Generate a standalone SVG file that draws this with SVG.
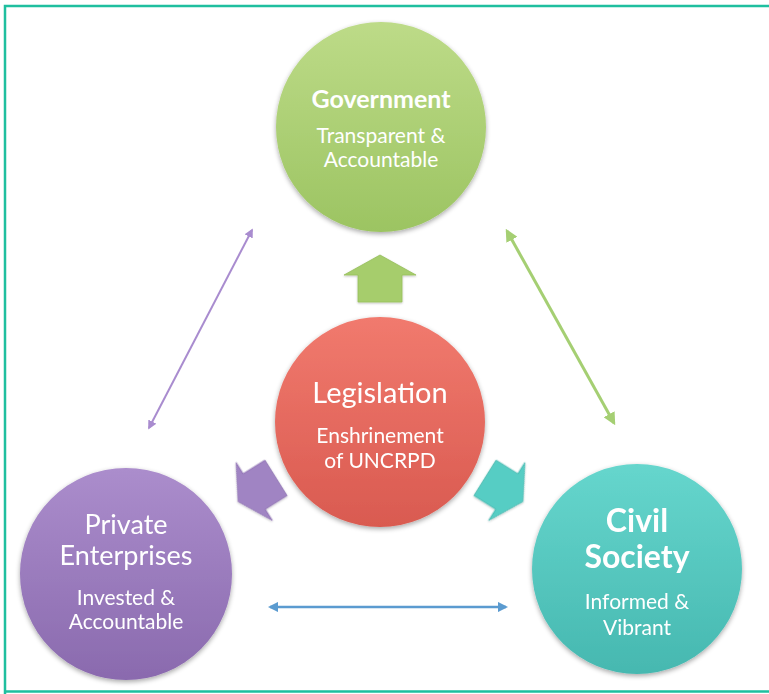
<svg xmlns="http://www.w3.org/2000/svg" width="769" height="694" viewBox="0 0 769 694">
  <defs>
    <linearGradient id="gGreen" x1="0" y1="0" x2="0" y2="1">
      <stop offset="0" stop-color="#bddb88"/>
      <stop offset="1" stop-color="#9cc462"/>
    </linearGradient>
    <linearGradient id="gRed" x1="0" y1="0" x2="0" y2="1">
      <stop offset="0" stop-color="#f17a6e"/>
      <stop offset="1" stop-color="#d95a50"/>
    </linearGradient>
    <linearGradient id="gPurple" x1="0" y1="0" x2="0" y2="1">
      <stop offset="0" stop-color="#ab8dcc"/>
      <stop offset="1" stop-color="#8a6aae"/>
    </linearGradient>
    <linearGradient id="gTeal" x1="0" y1="0" x2="0" y2="1">
      <stop offset="0" stop-color="#66d6cd"/>
      <stop offset="1" stop-color="#46b8b0"/>
    </linearGradient>
    <filter id="shadow" x="-20%" y="-20%" width="140%" height="140%">
      <feGaussianBlur in="SourceAlpha" stdDeviation="2.5"/>
      <feOffset dx="0" dy="2" result="b"/>
      <feComponentTransfer><feFuncA type="linear" slope="0.35"/></feComponentTransfer>
      <feMerge><feMergeNode/><feMergeNode in="SourceGraphic"/></feMerge>
    </filter>
    <filter id="soft" x="-20%" y="-20%" width="140%" height="140%">
      <feGaussianBlur in="SourceAlpha" stdDeviation="1.2"/>
      <feOffset dx="0" dy="1"/>
      <feComponentTransfer><feFuncA type="linear" slope="0.25"/></feComponentTransfer>
      <feMerge><feMergeNode/><feMergeNode in="SourceGraphic"/></feMerge>
    </filter>
    <marker id="mPurple" viewBox="0 0 10 10" refX="8" refY="5" markerWidth="4.5" markerHeight="4.5" orient="auto-start-reverse">
      <path d="M0,0 L10,5 L0,10 z" fill="#a98ccf"/>
    </marker>
    <marker id="mGreen" viewBox="0 0 10 10" refX="8" refY="5" markerWidth="4.2" markerHeight="4.2" orient="auto-start-reverse">
      <path d="M0,0 L10,5 L0,10 z" fill="#a5cf73"/>
    </marker>
    <marker id="mBlue" viewBox="0 0 10 10" refX="8" refY="5" markerWidth="4.2" markerHeight="4.2" orient="auto-start-reverse">
      <path d="M0,0 L10,5 L0,10 z" fill="#5b9bd0"/>
    </marker>
    <!-- block arrow pointing up, origin at the centre of the middle circle -->
    <path id="blockArrow" d="M0,-160 L36,-140 L22,-140 L22,-113 L-22,-113 L-22,-140 L-36,-140 Z"/>
    <style>
      .t { font-family: Lato, "Open Sans", "Liberation Sans", sans-serif; fill: #ffffff; text-anchor: middle; }
      .bold { font-weight: bold; }
      .sub { font-size: 21px; }
    </style>
  </defs>

  <rect x="0" y="0" width="769" height="694" fill="#ffffff"/>
  <!-- frame -->
  <path d="M5,694 L5,6 L769,6" fill="none" stroke="#1fbf9f" stroke-width="2.5"/>
  <line x1="5" y1="691.5" x2="769" y2="691.5" stroke="#1fbf9f" stroke-width="2.5"/>

  <g id="connectors">
    <line x1="149" y1="428" x2="252" y2="230" stroke="#a98ccf" stroke-width="2" marker-start="url(#mPurple)" marker-end="url(#mPurple)"/>
    <line x1="507" y1="231" x2="614" y2="423" stroke="#a5cf73" stroke-width="3" marker-start="url(#mGreen)" marker-end="url(#mGreen)"/>
    <line x1="270" y1="607" x2="506" y2="607" stroke="#5b9bd0" stroke-width="2.5" marker-start="url(#mBlue)" marker-end="url(#mBlue)"/>
    <g filter="url(#soft)">
      <use href="#blockArrow" transform="translate(380,415)" fill="#a6cd6c" stroke="#97bf5c" stroke-width="0.8"/>
      <use href="#blockArrow" transform="translate(367,421) rotate(-122) scale(0.95)" fill="#a084c3" stroke="#8e70b3" stroke-width="0.8"/>
      <use href="#blockArrow" transform="translate(394,421) rotate(122) scale(0.95)" fill="#57cdc4" stroke="#42b7ae" stroke-width="0.8"/>
    </g>
  </g>

  <g id="government">
    <circle cx="381" cy="127" r="105" fill="url(#gGreen)" filter="url(#shadow)"/>
    <text class="t bold" x="381" y="108" font-size="25">Government</text>
    <text class="t sub" x="381" y="143">Transparent &amp;</text>
    <text class="t sub" x="381" y="167">Accountable</text>
  </g>

  <g id="legislation">
    <circle cx="380" cy="422" r="105" fill="url(#gRed)" filter="url(#shadow)"/>
    <text class="t" x="380" y="403" font-size="29">Legislation</text>
    <text class="t sub" x="380" y="443">Enshrinement</text>
    <text class="t sub" x="380" y="468">of UNCRPD</text>
  </g>

  <g id="private-enterprises">
    <circle cx="126" cy="574" r="106" fill="url(#gPurple)" filter="url(#shadow)"/>
    <text class="t" x="126" y="534" font-size="27">Private</text>
    <text class="t" x="126" y="565" font-size="27">Enterprises</text>
    <text class="t sub" x="126" y="605">Invested &amp;</text>
    <text class="t sub" x="126" y="629">Accountable</text>
  </g>

  <g id="civil-society">
    <circle cx="637" cy="569" r="105" fill="url(#gTeal)" filter="url(#shadow)"/>
    <text class="t bold" x="637" y="532" font-size="32">Civil</text>
    <text class="t bold" x="637" y="568" font-size="32">Society</text>
    <text class="t sub" x="637" y="609">Informed &amp;</text>
    <text class="t sub" x="637" y="635">Vibrant</text>
  </g>
</svg>
